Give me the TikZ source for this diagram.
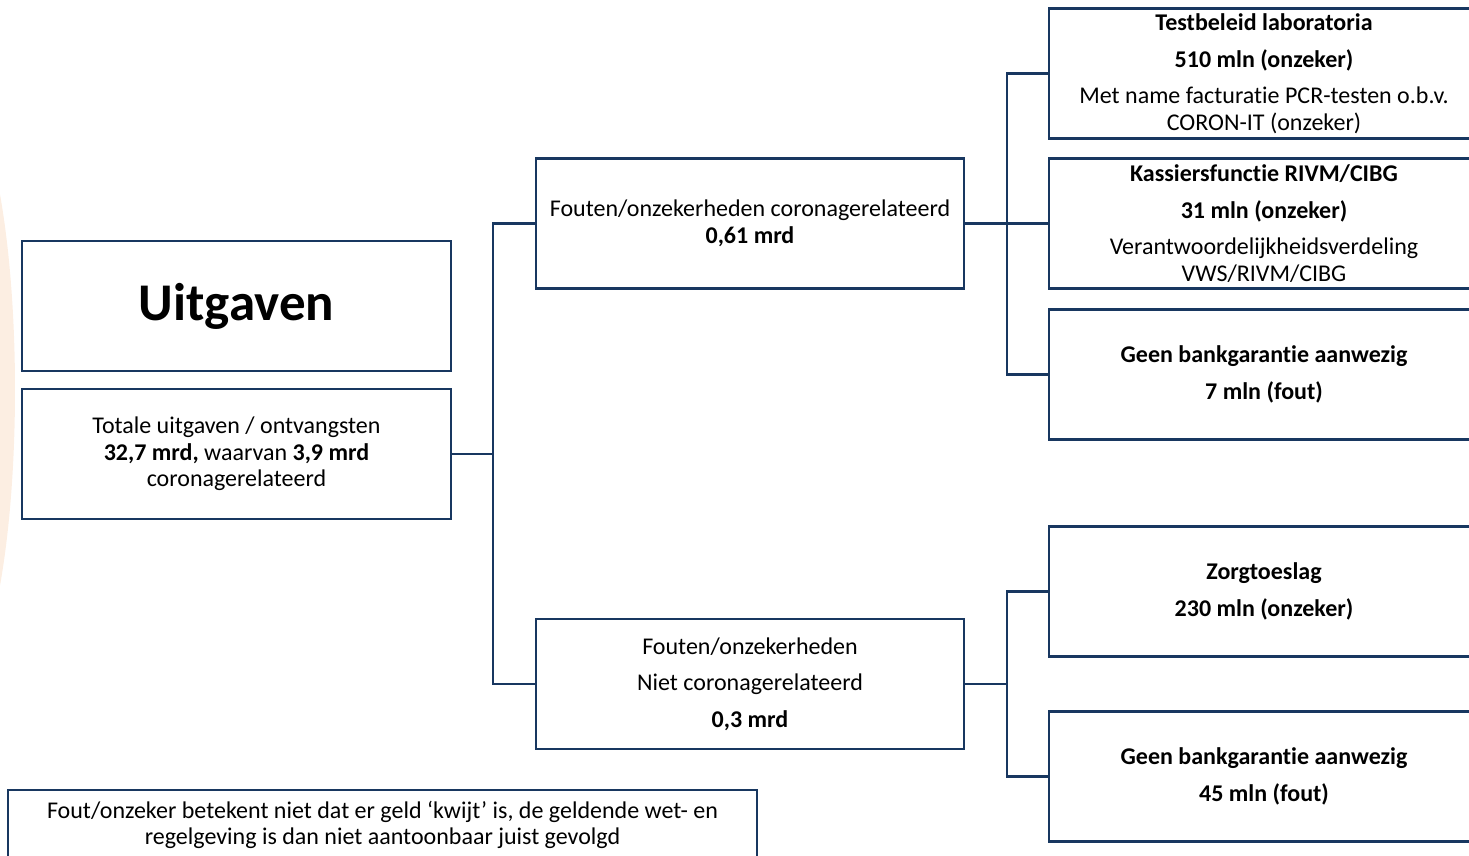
\documentclass[tikz,border=0pt]{standalone}
\usepackage{fontspec}
\setmainfont[Ligatures=NoCommon]{Carlito}
\definecolor{navy}{RGB}{24,55,96}
\definecolor{sand}{RGB}{252,238,226}
\tikzset{
	box/.style={draw=navy, line width=2.6pt, align=center, inner sep=0pt, minimum height=130pt},
	wire/.style={draw=navy, line width=2.6pt},
}
\newcommand{\txt}{\fontsize{24}{26.5}\selectfont}
\begin{document}
\begin{tikzpicture}[x=1pt,y=-1pt]
	\useasboundingbox (0,0) rectangle (1469,855);
	\fill[sand] (-47,390) ellipse (62 and 300);
	\begin{scope}[every node/.style={box},font=\txt]
		\node[minimum width=429pt] (uit) at (236.5,306) {\fontsize{53}{60}\selectfont\bfseries Uitgaven};
		\node[minimum width=429pt] (tot) at (236.5,454) {Totale uitgaven / ontvangsten\\\textbf{32,7 mrd,} waarvan \textbf{3,9 mrd}\\coronagerelateerd};
		\node[minimum width=428pt] (cor) at (750,223.5) {Fouten/onzekerheden coronagerelateerd\\\textbf{0,61 mrd}};
		\node[minimum width=428pt] (niet) at (750,684) {Fouten/onzekerheden\\[10pt]Niet coronagerelateerd\\[10pt]\textbf{0,3 mrd}};
		\node[minimum width=430pt] (test) at (1264,73.5) {\textbf{Testbeleid laboratoria}\\[10pt]\textbf{510 mln (onzeker)}\\[10pt]Met name facturatie PCR-testen o.b.v.\\CORON-IT (onzeker)};
		\node[minimum width=430pt] (kas) at (1264,223.5) {\textbf{Kassiersfunctie RIVM/CIBG}\\[10pt]\textbf{31 mln (onzeker)}\\[10pt]Verantwoordelijkheidsverdeling\\VWS/RIVM/CIBG};
		\node[minimum width=430pt] (bank1) at (1264,374.5) {\textbf{Geen bankgarantie aanwezig}\\[10pt]\textbf{7 mln (fout)}};
		\node[minimum width=430pt] (zorg) at (1264,591.5) {\textbf{Zorgtoeslag}\\[10pt]\textbf{230 mln (onzeker)}};
		\node[minimum width=430pt] (bank2) at (1264,776.5) {\textbf{Geen bankgarantie aanwezig}\\[10pt]\textbf{45 mln (fout)}};
		\node[minimum width=749pt, minimum height=70pt] (noot) at (382.5,825) {Fout/onzeker betekent niet dat er geld ‘kwijt’ is, de geldende wet- en\\regelgeving is dan niet aantoonbaar juist gevolgd};
	\end{scope}
	\coordinate (j1) at (493,454);
	\coordinate (j2) at (1007,223.5);
	\coordinate (j3) at (1007,684);
	\draw[wire] (tot.east) -- (j1);
	\draw[wire] (j1) |- (cor.west);
	\draw[wire] (j1) |- (niet.west);
	\draw[wire] (cor.east) -- (j2);
	\draw[wire] (j2) |- (test.west);
	\draw[wire] (j2) -- (kas.west);
	\draw[wire] (j2) |- (bank1.west);
	\draw[wire] (niet.east) -- (j3);
	\draw[wire] (j3) |- (zorg.west);
	\draw[wire] (j3) |- (bank2.west);
\end{tikzpicture}
\end{document}
